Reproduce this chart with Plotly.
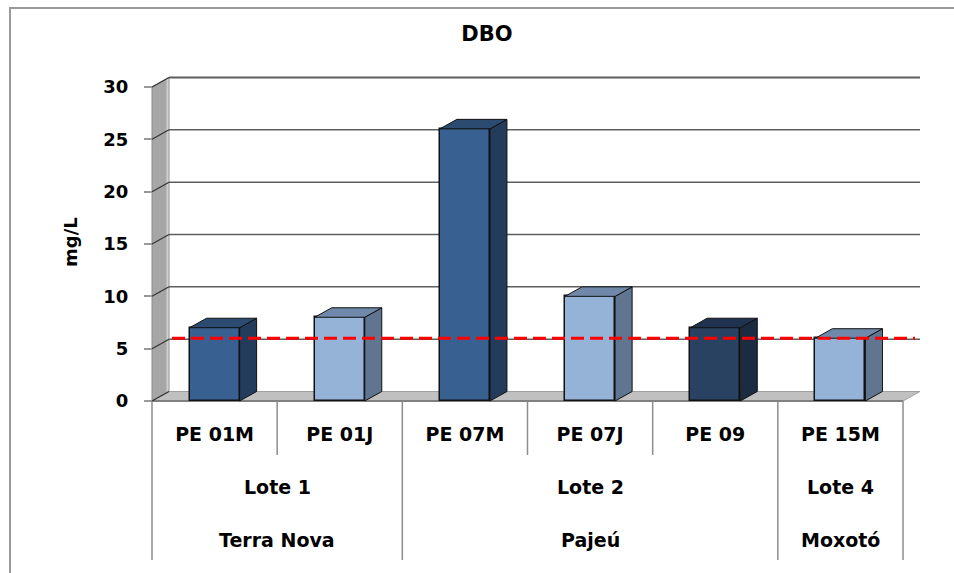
import plotly.graph_objects as go

# ---------------- data ----------------
stations = ["PE 01M", "PE 01J", "PE 07M", "PE 07J", "PE 09", "PE 15M"]
dbo_values = [7.0, 8.0, 26.0, 10.0, 7.0, 6.0]
lotes = ["Lote 1", "Lote 2", "Lote 4"]
regions = ["Terra Nova", "Pajeú", "Moxotó"]
group_sizes = [2, 3, 1]
limit_value = 6.0
y_ticks = [0, 5, 10, 15, 20, 25, 30]

# ---------------- styling / geometry ----------------
W, H = 954, 573
FONT = "DejaVu Sans"
front_col = ["#386192", "#95B3D7", "#386192", "#95B3D7", "#2A4262", "#95B3D7"]
side_col = ["#233C5B", "#5F7590", "#233C5B", "#5F7590", "#1B2B42", "#5F7590"]
top_col = ["#2B4B71", "#7089AA", "#2B4B71", "#7089AA", "#1F3250", "#7089AA"]

# pixel anchors of the front plot box
PX_L, PX_R, PX_B, PX_T = 152, 903, 401, 87
n = len(stations)
sx = (PX_R - PX_L) / n          # px per category
sy = (PX_B - PX_T) / 30.0       # px per unit
x_range = [-0.5 - PX_L / sx, n - 0.5 + (W - PX_R) / sx]
y_range = [-(H - PX_B) / sy, 30 + PX_T / sy]
DX = 17 / sx                    # depth offset (data units)
DY = 9.5 / sy
BW = 0.4                        # bar width

def ypx(p):  # pixel row -> data y
    return (PX_B - p) / sy

row1_bot, row3_bot = ypx(455), ypx(560)
row2_mid, row3_mid = ypx(487), ypx(540)

fig = go.Figure()

# front faces of bars
fig.add_trace(go.Bar(
    x=list(range(n)), y=dbo_values, width=BW,
    marker=dict(color=front_col, line=dict(color="#111111", width=1.5)),
    hoverinfo="skip", showlegend=False,
))

# side and top faces (3D look)
for i, v in enumerate(dbo_values):
    xr = i + BW / 2
    xl = i - BW / 2
    fig.add_trace(go.Scatter(
        x=[xr, xr + DX, xr + DX, xr, xr], y=[0, DY, v + DY, v, 0],
        mode="lines", fill="toself", fillcolor=side_col[i],
        line=dict(color="#111111", width=1), hoverinfo="skip", showlegend=False))
    fig.add_trace(go.Scatter(
        x=[xl, xr, xr + DX, xl + DX, xl], y=[v, v, v + DY, v + DY, v],
        mode="lines", fill="toself", fillcolor=top_col[i],
        line=dict(color="#111111", width=1), hoverinfo="skip", showlegend=False))

# reference limit line
fig.add_trace(go.Scatter(
    x=[-0.5 + 20 / sx, n - 0.5 + 12 / sx], y=[limit_value, limit_value],
    mode="lines", line=dict(color="#FF0000", width=3, dash="13px,6px"),
    hoverinfo="skip", showlegend=False))

shapes = []
x0, x1 = -0.5, n - 0.5
# left wall
shapes.append(dict(type="path", layer="below",
                   path=f"M {x0},0 L {x0},30 L {x0+DX},{30+DY} L {x0+DX},{DY} Z",
                   fillcolor="#A6A6A6", line=dict(color="#8C8C8C", width=1)))
shapes.append(dict(type="line", layer="below", x0=x0 + DX - 0.012, x1=x0 + DX - 0.012,
                   y0=DY, y1=30 + DY, line=dict(color="#D0D0D0", width=2)))
# floor
shapes.append(dict(type="path", layer="below",
                   path=f"M {x0},0 L {x1},0 L {x1+DX},{DY} L {x0+DX},{DY} Z",
                   fillcolor="#C0C0C0", line=dict(color="#A0A0A0", width=1)))
shapes.append(dict(type="line", layer="below", x0=x0, x1=x1, y0=0, y1=0,
                   line=dict(color="#808080", width=2)))
# back-wall gridlines and wall edge ticks
for t in y_ticks:
    if t > 0:
        shapes.append(dict(type="line", layer="below", x0=x0 + DX, x1=x1 + DX,
                           y0=t + DY, y1=t + DY,
                           line=dict(color="#5E5E5E", width=2 if t == 30 else 1.5)))
    shapes.append(dict(type="line", layer="below", x0=x0, x1=x0 + DX,
                       y0=t, y1=t + DY, line=dict(color="#333333", width=1.2)))

# category table lines
bounds = [x0]
acc = -0.5
for g in group_sizes:
    acc += g
    bounds.append(acc)
for b in bounds:
    shapes.append(dict(type="line", x0=b, x1=b, y0=0, y1=row3_bot,
                       line=dict(color="#8C8C8C", width=1.5)))
for i in range(1, n):
    xb = i - 0.5
    if xb not in bounds:
        shapes.append(dict(type="line", x0=xb, x1=xb, y0=0, y1=row1_bot,
                           line=dict(color="#8C8C8C", width=1.5)))

# chart border
shapes.append(dict(type="rect", xref="paper", yref="paper",
                   x0=10 / W, x1=1.01, y0=-0.01, y1=1 - 8 / H,
                   line=dict(color="#9A9A9A", width=2)))

annotations = []
for k in range(len(group_sizes)):
    center = (bounds[k] + bounds[k + 1]) / 2
    annotations.append(dict(x=center, y=row2_mid, text=lotes[k], showarrow=False,
                            font=dict(family=FONT, size=19, color="#000", weight="bold")))
    annotations.append(dict(x=center, y=row3_mid, text=regions[k], showarrow=False,
                            font=dict(family=FONT, size=19, color="#000", weight="bold")))
annotations.append(dict(xref="paper", yref="paper", x=71 / W, y=1 - 242 / H,
                        xanchor="center", yanchor="middle",
                        text="mg/L", textangle=-90, showarrow=False,
                        font=dict(family=FONT, size=18, color="#000", weight="bold")))

fig.update_layout(
    width=W, height=H, margin=dict(l=0, r=0, t=0, b=0),
    paper_bgcolor="white", plot_bgcolor="white",
    title=dict(text="DBO", x=487 / W, y=1 - 34 / H, xanchor="center", yanchor="middle",
               font=dict(family=FONT, size=21, color="#000", weight="bold")),
    xaxis=dict(range=x_range, showgrid=False, zeroline=False, showline=False,
               tickmode="array", tickvals=list(range(n)), ticktext=stations,
               ticks="", anchor="free", position=(H - PX_B) / H,
               ticklabelstandoff=20,
               tickfont=dict(family=FONT, size=19, color="#000", weight="bold"),
               fixedrange=True),
    yaxis=dict(range=y_range, showgrid=False, zeroline=False, showline=False,
               tickmode="array", tickvals=y_ticks, ticks="outside", ticklen=8,
               tickcolor="#999999", tickwidth=1.5, anchor="free", position=PX_L / W,
               ticklabelstandoff=12,
               tickfont=dict(family=FONT, size=18, color="#000", weight="bold"),
               fixedrange=True),
    shapes=shapes, annotations=annotations, bargap=0,
)

fig.write_html("out.html")
